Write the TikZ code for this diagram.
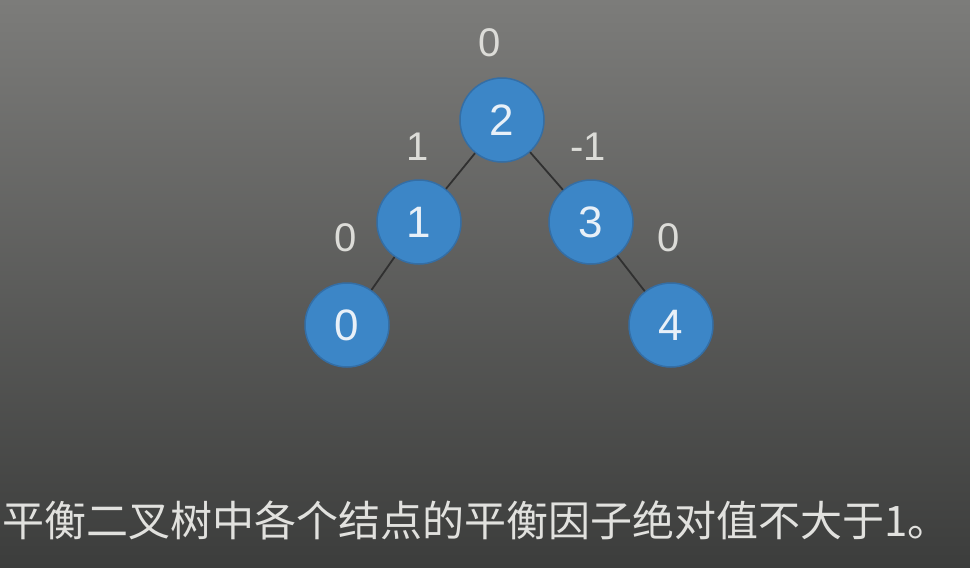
\documentclass[tikz,border=0pt]{standalone}
\usepackage{fontspec}
\setmainfont{Liberation Sans}
\newfontfamily\cjk{Noto Sans CJK SC}
\begin{document}
\begin{tikzpicture}[x=1pt,y=-1pt,
  tnode/.style={circle,minimum size=84pt,inner sep=0pt,fill={rgb,255:red,60;green,134;blue,199},draw={rgb,255:red,52;green,110;blue,165},line width=1.5pt,text={rgb,255:red,232;green,240;blue,248},font=\fontsize{44}{44}\selectfont},
  bf/.style={text={rgb,255:red,220;green,220;blue,216},font=\fontsize{40}{40}\selectfont,inner sep=0pt},
  edge/.style={draw={rgb,255:red,48;green,48;blue,48},line width=1.8pt}]
\useasboundingbox (0,0) rectangle (970,568);
\shade[top color={rgb,255:red,124;green,124;blue,122},bottom color={rgb,255:red,60;green,61;blue,60}] (0,0) rectangle (970,568);
\node[tnode] (n2) at (502,120) {2};
\node[tnode] (n1) at (419,222) {1};
\node[tnode] (n3) at (591,222) {3};
\node[tnode] (n0) at (347,325) {0};
\node[tnode] (n4) at (671,325) {4};
\draw[edge] (n2) -- (n1);
\draw[edge] (n2) -- (n3);
\draw[edge] (n1) -- (n0);
\draw[edge] (n3) -- (n4);
\node[bf] (b2) at (490,43) {0};
\node[bf] (b1) at (418,147) {1};
\node[bf] (b3) at (588,147) {-1};
\node[bf] (b0) at (346,238) {0};
\node[bf] (b4) at (669,238) {0};
\node[anchor=west,inner sep=0pt,text={rgb,255:red,225;green,225;blue,222},font=\cjk\fontsize{42}{42}\selectfont] (cap) at (2,520) {平衡二叉树中各个结点的平衡因子绝对值不大于1。};
\end{tikzpicture}
\end{document}
